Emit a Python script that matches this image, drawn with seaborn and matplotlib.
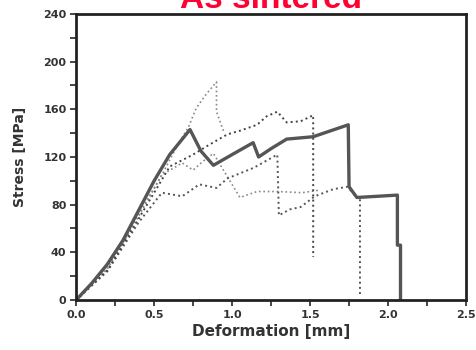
import numpy as np
import pandas as pd
import matplotlib
matplotlib.use("Agg")
import matplotlib.pyplot as plt
from matplotlib.ticker import MultipleLocator
import seaborn as sns

sns.set_style("ticks")
plt.rcParams['font.family'] = ['DejaVu Sans']

# -------------------------------
# data
# -------------------------------
s1_x = [0, 0.1, 0.2, 0.3, 0.4, 0.5, 0.6, 0.73, 0.8, 0.88, 1.0, 1.135, 1.17, 1.25, 1.35, 1.52, 1.745, 1.75, 1.80, 2.06, 2.06, 2.08, 2.08]
s1_y = [0, 14, 30, 50, 75, 100, 122, 143, 125, 113, 122, 132, 120, 127, 135, 137, 147, 95, 86, 88, 46, 46, 0]

s2_x = [0, 0.2, 0.4, 0.55, 0.65, 0.72, 0.77, 0.83, 0.9, 0.9, 0.95]
s2_y = [0, 28, 72, 105, 130, 145, 161, 172, 183, 158, 140]

s3_x = [0, 0.2, 0.4, 0.6, 0.75, 0.85, 0.97, 1.05, 1.16, 1.22, 1.29, 1.35, 1.44, 1.52, 1.52]
s3_y = [0, 25, 68, 112, 122, 130, 139, 142, 147, 154, 158, 149, 150, 155, 36]

s4_x = [0, 0.2, 0.4, 0.55, 0.68, 0.79, 0.9, 0.97, 1.14, 1.29, 1.30, 1.37, 1.44, 1.53, 1.65, 1.74, 1.80, 1.82, 1.82]
s4_y = [0, 24, 65, 90, 87, 97, 94, 102, 111, 122, 71, 76, 78, 87, 93, 95, 86, 86, 5]

s5_x = [0, 0.2, 0.4, 0.55, 0.68, 0.75, 0.81, 0.88, 1.05, 1.16, 1.3, 1.45, 1.55]
s5_y = [0, 26, 70, 105, 115, 109, 116, 123, 86, 91, 91, 90, 92]

series = [
    ("s1", s1_x, s1_y, "-", 2.4, "#555555"),
    ("s2", s2_x, s2_y, ":", 1.2, "#888888"),
    ("s3", s3_x, s3_y, ":", 1.4, "#444444"),
    ("s4", s4_x, s4_y, ":", 1.4, "#555555"),
    ("s5", s5_x, s5_y, ":", 1.2, "#888888"),
]

fig = plt.figure(figsize=(4.76, 3.5), dpi=100)
ax = fig.add_axes([0.16, 0.143, 0.819, 0.817])

for name, xs, ys, ls, lw, col in series[::-1]:
    df = pd.DataFrame({"x": xs, "y": ys})
    sns.lineplot(data=df, x="x", y="y", sort=False, estimator=None,
                 ax=ax, color=col, linestyle=ls, linewidth=lw)

ax.set_xlim(0, 2.5)
ax.set_ylim(0, 240)
ax.xaxis.set_major_locator(MultipleLocator(0.5))
ax.xaxis.set_minor_locator(MultipleLocator(0.25))
ax.yaxis.set_major_locator(MultipleLocator(40))
ax.yaxis.set_minor_locator(MultipleLocator(20))
ax.set_xticklabels([f"{v:.1f}" for v in ax.get_xticks()])
ax.tick_params(which="both", direction="out", length=4, width=1.2, labelsize=8,
               labelcolor="#333333", pad=3)
for lab in ax.get_xticklabels() + ax.get_yticklabels():
    lab.set_fontweight("bold")
for sp in ax.spines.values():
    sp.set_linewidth(2)
    sp.set_color("#222222")

ax.set_xlabel("Deformation [mm]", fontsize=11, fontweight="bold", color="#333333", labelpad=3)
ax.set_ylabel("Stress [MPa]", fontsize=10, fontweight="bold", color="#333333", labelpad=12)

fig.text(0.57, 0.978, "As sintered", color="#ff0033", fontsize=24, fontweight="bold",
         ha="center", va="baseline", family=["Liberation Sans", "DejaVu Sans"])

plt.savefig("out.png", dpi=100)
plt.close()
